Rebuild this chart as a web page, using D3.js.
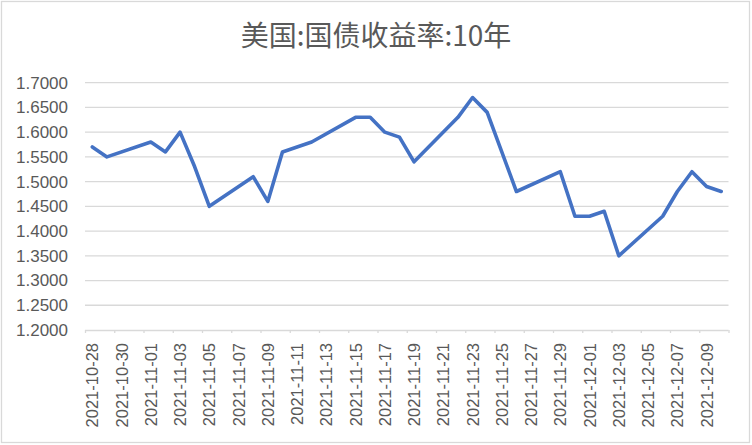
<!DOCTYPE html>
<html>
<head>
<meta charset="utf-8">
<script src="https://cdn.jsdelivr.net/npm/d3@7/dist/d3.min.js"></script>
<style>
  html, body { margin: 0; padding: 0; background: #fff; }
  svg { display: block; }
</style>
</head>
<body>
<svg id="chart" width="752" height="445"></svg>
<script>
const title = "美国:国债收益率:10年";
const dates = ["2021-10-28","2021-10-29","2021-11-01","2021-11-02","2021-11-03","2021-11-04","2021-11-05",
  "2021-11-08","2021-11-09","2021-11-10","2021-11-12","2021-11-15","2021-11-16","2021-11-17","2021-11-18",
  "2021-11-19","2021-11-22","2021-11-23","2021-11-24","2021-11-26","2021-11-29","2021-11-30","2021-12-01",
  "2021-12-02","2021-12-03","2021-12-06","2021-12-07","2021-12-08","2021-12-09","2021-12-10"];
const yields = [1.57,1.55,1.58,1.56,1.60,1.53,1.45,
  1.51,1.46,1.56,1.58,1.63,1.63,1.60,1.59,
  1.54,1.63,1.67,1.64,1.48,1.52,1.43,1.43,
  1.44,1.35,1.43,1.48,1.52,1.49,1.48];
const yTicks = [1.20,1.25,1.30,1.35,1.40,1.45,1.50,1.55,1.60,1.65,1.70];
const xTickLabels = ["2021-10-28","2021-10-30","2021-11-01","2021-11-03","2021-11-05","2021-11-07",
  "2021-11-09","2021-11-11","2021-11-13","2021-11-15","2021-11-17","2021-11-19","2021-11-21",
  "2021-11-23","2021-11-25","2021-11-27","2021-11-29","2021-12-01","2021-12-03","2021-12-05",
  "2021-12-07","2021-12-09"];
const axisStart = "2021-10-28";
const axisEnd = "2021-12-11";

(function () {
const svg = d3.select("#chart");
const W = 752, H = 445;
const mLeft = 85, mRight = 728.5, mTop = 82.7, mBottom = 330;
const parse = d3.utcParse("%Y-%m-%d");
const half = d => d3.utcHour.offset(d, 12);

// chart border
svg.append("rect").attr("x", 1.5).attr("y", 1.5).attr("width", W - 4).attr("height", H - 4)
  .attr("fill", "#fff").attr("stroke", "#d9d9d9").attr("stroke-width", 1.3);

// title
svg.append("text").attr("x", 376).attr("y", 46).attr("text-anchor", "middle")
  .attr("font-family", "'Noto Sans CJK SC', sans-serif").attr("font-size", 28)
  .attr("fill", "#595959").text(title);

const x = d3.scaleUtc().domain([parse(axisStart), parse(axisEnd)]).range([mLeft, mRight]);
const y = d3.scaleLinear().domain([1.2, 1.7]).range([mBottom, mTop]);

// gridlines
svg.append("g").selectAll("line").data(yTicks.slice(1)).join("line")
  .attr("x1", mLeft).attr("x2", mRight)
  .attr("y1", d => y(d)).attr("y2", d => y(d))
  .attr("stroke", "#d9d9d9").attr("stroke-width", 1.3);

// y axis labels
const yAxis = d3.axisLeft(y).tickValues(yTicks).tickFormat(d3.format(".4f")).tickSize(0).tickPadding(17);
const gy = svg.append("g").attr("transform", `translate(${mLeft},0)`).call(yAxis);
gy.select(".domain").remove();
gy.selectAll("text").attr("font-family", "'Liberation Sans', Arial, sans-serif")
  .attr("font-size", 17).attr("fill", "#595959");

// x axis ticks: boundaries every 2 days from start to end
const tickDates = xTickLabels.map(parse).concat([parse(axisEnd)]);
const xAxis = d3.axisBottom(x).tickValues(tickDates).tickSize(3).tickFormat("");
const gx = svg.append("g").attr("transform", `translate(0,${mBottom})`).call(xAxis);
gx.select(".domain").attr("stroke", "#d9d9d9").attr("stroke-width", 1.3).attr("d", `M${mLeft},0.5H${mRight}`);
gx.selectAll(".tick line").attr("stroke", "#d9d9d9").attr("stroke-width", 1.3);

// x labels (centered on day slots)
svg.append("g").selectAll("text").data(xTickLabels).join("text")
  .attr("transform", d => `translate(${x(half(parse(d)))},${mBottom + 13}) rotate(-90)`)
  .attr("text-anchor", "end").attr("dy", "0.36em")
  .attr("font-family", "'Liberation Sans', Arial, sans-serif").attr("font-size", 16.5)
  .attr("fill", "#595959").text(d => d);

// line
const pts = dates.map((d, i) => ({ d: half(parse(d)), v: yields[i] }));
svg.append("path").datum(pts)
  .attr("fill", "none").attr("stroke", "#4472C4").attr("stroke-width", 3.6)
  .attr("stroke-linejoin", "round").attr("stroke-linecap", "round")
  .attr("d", d3.line().x(p => x(p.d)).y(p => y(p.v)));
})();
</script>
</body>
</html>
